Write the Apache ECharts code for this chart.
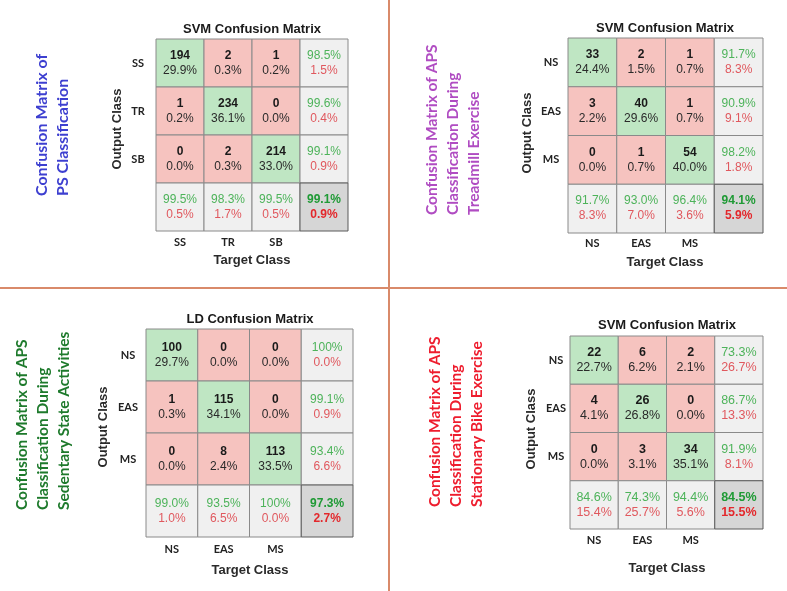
<!DOCTYPE html>
<html>
<head>
<meta charset="utf-8">
<script src="https://cdn.jsdelivr.net/npm/echarts@6/dist/echarts.min.js"></script>
<style>html,body{margin:0;padding:0;background:#fff}#c{width:787px;height:591px}</style>
</head>
<body>
<div id="c"></div>
<script>
// ---- data (rows = output class, columns = target class) ----
const classesPS = ['SS', 'TR', 'SB'];
const classesAPS = ['NS', 'EAS', 'MS'];
const countsPS = [[194, 2, 1], [1, 234, 0], [0, 2, 214]];
const countsTreadmill = [[33, 2, 1], [3, 40, 1], [0, 1, 54]];
const countsSedentary = [[100, 0, 0], [1, 115, 0], [0, 8, 113]];
const countsBike = [[22, 6, 2], [4, 26, 0], [0, 3, 34]];
const matrixTitles = ['SVM Confusion Matrix', 'SVM Confusion Matrix', 'LD Confusion Matrix', 'SVM Confusion Matrix'];
const panelCaptions = [
  'Confusion Matrix of\nPS Classification',
  'Confusion Matrix of APS\nClassification During\nTreadmill Exercise',
  'Confusion Matrix of APS\nClassification During\nSedentary State Activities',
  'Confusion Matrix of APS\nClassification During\nStationary Bike Exercise'
];
const xAxisName = 'Target Class';
const yAxisName = 'Output Class';

// ---- layout / style (not data) ----
const panels = [
  {counts: countsPS, classes: classesPS, grid: {left: 156, top: 39, width: 192, height: 192},
   title: [252, 29], xname: [252, 260], yname: [117, 129], ylabMargin: 18, xlabMargin: 6, fs: 12,
   cap: {x: 52, y: 196, color: '#3d3fd0', size: 16}},
  {counts: countsTreadmill, classes: classesAPS, grid: {left: 568, top: 38, width: 195, height: 195},
   title: [665, 28], xname: [665, 262], yname: [527, 133], ylabMargin: 17, xlabMargin: 5, fs: 12,
   cap: {x: 453, y: 215, color: '#b04cc2', size: 15.5}},
  {counts: countsSedentary, classes: classesAPS, grid: {left: 146, top: 329, width: 207, height: 208},
   title: [250, 319], xname: [250, 570], yname: [103, 427], ylabMargin: 18, xlabMargin: 7, fs: 12,
   cap: {x: 43, y: 510, color: '#1e7a2c', size: 15.5}},
  {counts: countsBike, classes: classesAPS, grid: {left: 570, top: 336, width: 193, height: 193},
   title: [667, 325], xname: [667, 568], yname: [531, 429], ylabMargin: 14, xlabMargin: 6, fs: 12.5,
   cap: {x: 456, y: 507, color: '#ee1d2e', size: 15.5}}
];

function fmt(v) {
  const s = v.toFixed(1);
  return s === '100.0' ? '100%' : s + '%';
}

function buildCells(counts) {
  const n = counts.length;
  let total = 0, correct = 0;
  for (let i = 0; i < n; i++) for (let j = 0; j < n; j++) { total += counts[i][j]; if (i === j) correct += counts[i][j]; }
  const cells = [];
  for (let i = 0; i <= n; i++) {
    for (let j = 0; j <= n; j++) {
      let text, kind;
      if (i < n && j < n) {
        text = '{c|' + counts[i][j] + '}\n{p|' + fmt(100 * counts[i][j] / total) + '}';
        kind = i === j ? 'diag' : 'off';
      } else if (i < n) {
        let rs = 0; for (let k = 0; k < n; k++) rs += counts[i][k];
        const acc = rs ? 100 * counts[i][i] / rs : 0;
        text = '{g|' + fmt(acc) + '}\n{r|' + fmt(100 - acc) + '}';
        kind = 'sum';
      } else if (j < n) {
        let cs = 0; for (let k = 0; k < n; k++) cs += counts[k][j];
        const acc = cs ? 100 * counts[j][j] / cs : 0;
        text = '{g|' + fmt(acc) + '}\n{r|' + fmt(100 - acc) + '}';
        kind = 'sum';
      } else {
        const acc = 100 * correct / total;
        text = '{gb|' + fmt(acc) + '}\n{rb|' + fmt(100 - acc) + '}';
        kind = 'total';
      }
      cells.push({value: [j, i], text: text, kind: kind});
    }
  }
  return cells;
}

const fills = {diag: '#bfe6c3', off: '#f6c3bf', sum: '#f0f0f0', total: '#d6d6d6'};
const FONT = 'Liberation Sans, Arial, sans-serif';

const option = {
  backgroundColor: '#ffffff',
  animation: false,
  grid: [], xAxis: [], yAxis: [], series: [], graphic: []
};

panels.forEach((p, k) => {
  const cells = buildCells(p.counts);
  const cats = p.classes.concat(['']);
  option.grid.push(Object.assign({containLabel: false}, p.grid));
  option.xAxis.push({
    type: 'category', gridIndex: k, data: cats, position: 'bottom',
    axisLine: {show: false}, axisTick: {show: false}, splitLine: {show: false},
    axisLabel: {margin: p.xlabMargin, fontFamily: 'Lato', fontWeight: 'bold', fontSize: 11, color: '#222'}
  });
  option.yAxis.push({
    type: 'category', gridIndex: k, data: cats, inverse: true,
    axisLine: {show: false}, axisTick: {show: false}, splitLine: {show: false},
    axisLabel: {margin: p.ylabMargin, align: 'center', fontFamily: 'Lato', fontWeight: 'bold', fontSize: 11, color: '#222'}
  });
  const fs = p.fs;
  option.series.push({
    type: 'custom', xAxisIndex: k, yAxisIndex: k,
    data: cells.map(c => c.value),
    renderItem: function (params, api) {
      const cell = cells[params.dataIndex];
      const c = api.coord([api.value(0), api.value(1)]);
      const s = api.size([1, 1]);
      const w = s[0], h = s[1];
      return {
        type: 'group',
        children: [
          {type: 'rect', shape: {x: c[0] - w / 2, y: c[1] - h / 2, width: w, height: h},
           style: {fill: fills[cell.kind], stroke: cell.kind === 'total' ? '#5a5a5a' : '#8a8a8a', lineWidth: 1}},
          {type: 'text', x: c[0], y: c[1], z2: 10,
           style: {
             text: cell.text, align: 'center', verticalAlign: 'middle',
             fontFamily: FONT, fontSize: fs, lineHeight: 15,
             rich: {
               c: {fontFamily: FONT, fontSize: fs, fontWeight: 'bold', fill: '#1a1a1a', lineHeight: 15},
               p: {fontFamily: FONT, fontSize: fs, fill: '#2a2a2a', lineHeight: 15},
               g: {fontFamily: FONT, fontSize: fs, fill: '#4db35a', lineHeight: 15},
               r: {fontFamily: FONT, fontSize: fs, fill: '#e0585e', lineHeight: 15},
               gb: {fontFamily: FONT, fontSize: fs, fontWeight: 'bold', fill: '#1f9a35', lineHeight: 15},
               rb: {fontFamily: FONT, fontSize: fs, fontWeight: 'bold', fill: '#e3282c', lineHeight: 15}
             }
           }}
        ]
      };
    }
  });
  option.graphic.push(
    {type: 'text', x: p.title[0], y: p.title[1],
     style: {text: matrixTitles[k], align: 'center', verticalAlign: 'middle', font: 'bold 13px ' + FONT, fill: '#1a1a1a'}},
    {type: 'text', x: p.xname[0], y: p.xname[1],
     style: {text: xAxisName, align: 'center', verticalAlign: 'middle', font: 'bold 13px ' + FONT, fill: '#2a2a2a'}},
    {type: 'text', x: p.yname[0], y: p.yname[1], rotation: Math.PI / 2,
     style: {text: yAxisName, align: 'center', verticalAlign: 'middle', font: 'bold 13px ' + FONT, fill: '#2a2a2a'}},
    {type: 'text', x: p.cap.x, y: p.cap.y, rotation: Math.PI / 2,
     style: {text: panelCaptions[k], align: 'left', verticalAlign: 'middle', font: 'bold ' + p.cap.size + 'px Lato', lineHeight: 21, fill: p.cap.color}}
  );
});

// panel dividers
option.graphic.push(
  {type: 'line', shape: {x1: 389, y1: 0, x2: 389, y2: 591}, style: {stroke: '#d98a6a', lineWidth: 2}},
  {type: 'line', shape: {x1: 0, y1: 288, x2: 787, y2: 288}, style: {stroke: '#d98a6a', lineWidth: 2}}
);

const chart = echarts.init(document.getElementById('c'), null, {renderer: 'canvas'});
chart.setOption(option);
</script>
</body>
</html>
